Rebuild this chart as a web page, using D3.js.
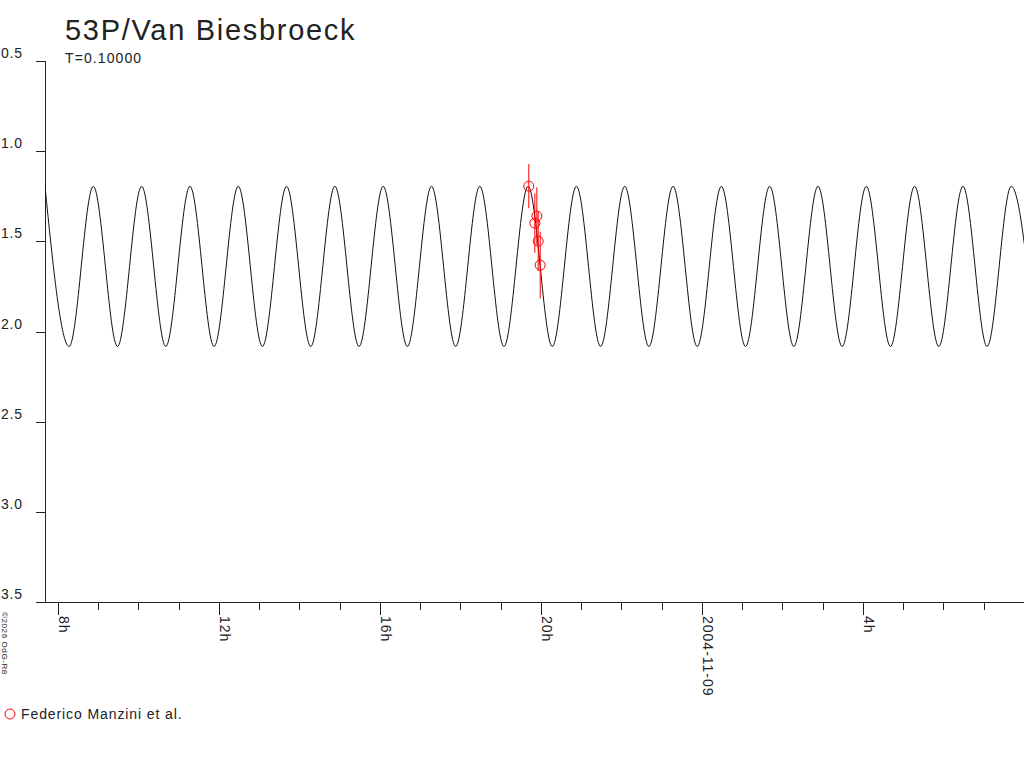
<!DOCTYPE html>
<html>
<head>
<meta charset="utf-8">
<script src="https://cdn.jsdelivr.net/npm/d3@7"></script>
<style>
  html, body { margin: 0; padding: 0; background: #fff; }
  svg { display: block; font-family: "Liberation Sans", Arial, sans-serif; }
</style>
</head>
<body>
<div id="chart"></div>
<script>
// Light-curve model: alternating maxima / minima (UTC)
const curveTimes = [
  "2004-11-08T07:41Z", "2004-11-08T08:17Z", "2004-11-08T08:53Z", "2004-11-08T09:29Z",
  "2004-11-08T10:05Z", "2004-11-08T10:41Z", "2004-11-08T11:17Z", "2004-11-08T11:53Z",
  "2004-11-08T12:29Z", "2004-11-08T13:05Z", "2004-11-08T13:41Z", "2004-11-08T14:17Z",
  "2004-11-08T14:53Z", "2004-11-08T15:29Z", "2004-11-08T16:05Z", "2004-11-08T16:41Z",
  "2004-11-08T17:17Z", "2004-11-08T17:53Z", "2004-11-08T18:29Z", "2004-11-08T19:05Z",
  "2004-11-08T19:41Z", "2004-11-08T20:17Z", "2004-11-08T20:53Z", "2004-11-08T21:29Z",
  "2004-11-08T22:05Z", "2004-11-08T22:41Z", "2004-11-08T23:17Z", "2004-11-08T23:53Z",
  "2004-11-09T00:29Z", "2004-11-09T01:05Z", "2004-11-09T01:41Z", "2004-11-09T02:17Z",
  "2004-11-09T02:53Z", "2004-11-09T03:29Z", "2004-11-09T04:05Z", "2004-11-09T04:41Z",
  "2004-11-09T05:17Z", "2004-11-09T05:53Z", "2004-11-09T06:29Z", "2004-11-09T07:05Z",
  "2004-11-09T07:41Z", "2004-11-09T08:17Z"
];
const curveMags = [
  1.195, 2.083, 1.195, 2.083, 1.195, 2.083, 1.195, 2.083,
  1.195, 2.083, 1.195, 2.083, 1.195, 2.083, 1.195, 2.083,
  1.195, 2.083, 1.195, 2.083, 1.195, 2.083, 1.195, 2.083,
  1.195, 2.083, 1.195, 2.083, 1.195, 2.083, 1.195, 2.083,
  1.195, 2.083, 1.195, 2.083, 1.195, 2.083, 1.195, 2.083,
  1.195, 2.083
];

// Observations (Federico Manzini et al.)
const obsTimes  = ["2004-11-08T19:42Z", "2004-11-08T19:54Z", "2004-11-08T19:51Z", "2004-11-08T19:56Z", "2004-11-08T19:59Z"];
const obsMags   = [1.194, 1.360, 1.399, 1.499, 1.632];
const obsErrors = [0.122, 0.160, 0.165, 0.165, 0.185];

const yTicks = [0.5, 1.0, 1.5, 2.0, 2.5, 3.0, 3.5];
const xDomain = ["2004-11-08T07:41Z", "2004-11-09T08:00Z"];

const title = "53P/Van Biesbroeck";
const subtitle = "T=0.10000";
const observer = "Federico Manzini et al.";

const width = 1024;
const height = 768;
const plotLeft = 45, plotRight = 1024, plotTop = 61, plotBottom = 602;

const svg = d3.select("#chart")
  .append("svg")
  .attr("width", width)
  .attr("height", height);

const x = d3.scaleUtc()
  .domain(xDomain.map(d => new Date(d)))
  .range([plotLeft, plotRight]);

const y = d3.scaleLinear()
  .domain([0.5, 3.5])
  .range([plotTop, plotBottom]);

const ink = "#222";

// Title and period
svg.append("text")
  .attr("x", 65).attr("y", 40)
  .attr("fill", ink)
  .style("font-size", "29px")
  .style("letter-spacing", "1.7px")
  .text(title);

svg.append("text")
  .attr("x", 65).attr("y", 63)
  .attr("fill", ink)
  .style("font-size", "14px")
  .style("letter-spacing", "1.1px")
  .text(subtitle);

// Y axis: line, ticks, labels
svg.append("line")
  .attr("x1", plotLeft + 0.5).attr("x2", plotLeft + 0.5)
  .attr("y1", plotTop).attr("y2", plotBottom)
  .attr("stroke", ink);

svg.selectAll(".ytick")
  .data(yTicks)
  .join("line")
    .attr("class", "ytick")
    .attr("x1", 36).attr("x2", plotLeft)
    .attr("y1", d => Math.round(y(d)) + 0.5).attr("y2", d => Math.round(y(d)) + 0.5)
    .attr("stroke", ink);

svg.selectAll(".ylabel")
  .data(yTicks)
  .join("text")
    .attr("class", "ylabel")
    .attr("x", 1)
    .attr("y", d => y(d) - 3)
    .attr("fill", ink)
    .style("font-size", "14px")
    .style("letter-spacing", "0.8px")
    .text(d => d.toFixed(1));

// X axis: domain line, hourly ticks, 4-hour labels
svg.append("line")
  .attr("x1", 36).attr("x2", plotRight)
  .attr("y1", plotBottom + 0.5).attr("y2", plotBottom + 0.5)
  .attr("stroke", ink);

const hours = x.ticks(d3.utcHour.every(1)).filter(d => x(d) < plotRight - 10);

svg.selectAll(".xtick")
  .data(hours)
  .join("line")
    .attr("class", "xtick")
    .attr("x1", d => Math.round(x(d)) + 0.5)
    .attr("x2", d => Math.round(x(d)) + 0.5)
    .attr("y1", plotBottom)
    .attr("y2", d => plotBottom + (d.getUTCHours() % 4 === 0 ? 13 : 8))
    .attr("stroke", ink);

const fmtDay = d3.utcFormat("%Y-%m-%d");

svg.selectAll(".xlabel")
  .data(hours.filter(d => d.getUTCHours() % 4 === 0))
  .join("text")
    .attr("class", "xlabel")
    .attr("transform", d => `translate(${Math.round(x(d)) + 1}, 616) rotate(90)`)
    .attr("fill", ink)
    .style("font-size", "14px")
    .style("letter-spacing", "1px")
    .text(d => d.getUTCHours() === 0 ? fmtDay(d) : `${d.getUTCHours()}h`);

// Copyright note
svg.append("text")
  .attr("transform", "translate(2, 612) rotate(90)")
  .attr("fill", ink)
  .style("font-size", "8px")
  .style("letter-spacing", "0.6px")
  .text("\u00a92026 OdG-R8");

// Model curve, clipped to the plot area
svg.append("clipPath")
  .attr("id", "plot-clip")
  .append("rect")
    .attr("x", plotLeft).attr("y", 0)
    .attr("width", plotRight - plotLeft).attr("height", plotBottom);

const curve = curveTimes.map((t, i) => ({ t: new Date(t), m: curveMags[i] }));

svg.append("path")
  .datum(curve)
  .attr("clip-path", "url(#plot-clip)")
  .attr("fill", "none")
  .attr("stroke", "#111")
  .attr("stroke-width", 1)
  .attr("d", d3.line()
    .x(d => x(d.t))
    .y(d => y(d.m))
    .curve(d3.curveMonotoneX));

// Observations with error bars
const obs = obsTimes.map((t, i) => ({ t: new Date(t), m: obsMags[i], e: obsErrors[i] }));
const red = "#f00";

svg.selectAll(".err")
  .data(obs)
  .join("line")
    .attr("class", "err")
    .attr("x1", d => x(d.t)).attr("x2", d => x(d.t))
    .attr("y1", d => y(d.m - d.e)).attr("y2", d => y(d.m + d.e))
    .attr("stroke", red);

svg.selectAll(".obs")
  .data(obs)
  .join("circle")
    .attr("class", "obs")
    .attr("cx", d => x(d.t))
    .attr("cy", d => y(d.m))
    .attr("r", 5)
    .attr("fill", "none")
    .attr("stroke", red);

// Legend
svg.append("circle")
  .attr("cx", 10).attr("cy", 714)
  .attr("r", 5)
  .attr("fill", "none")
  .attr("stroke", red);

svg.append("text")
  .attr("x", 21).attr("y", 719)
  .attr("fill", ink)
  .style("font-size", "14px")
  .style("letter-spacing", "0.9px")
  .text(observer);
</script>
</body>
</html>
